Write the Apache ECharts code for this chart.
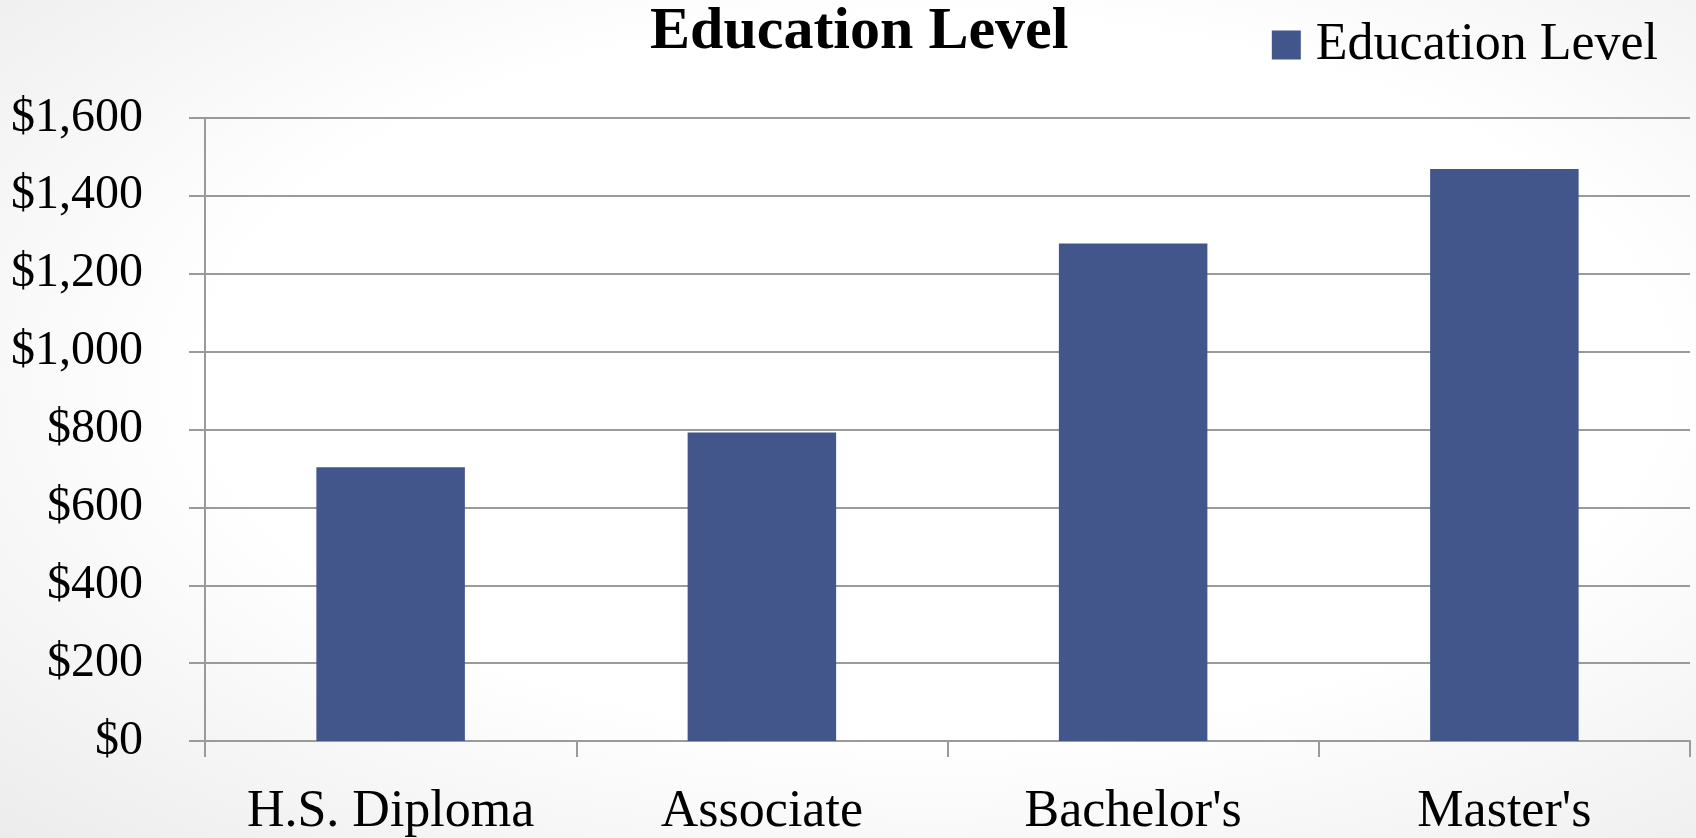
<!DOCTYPE html>
<html>
<head>
<meta charset="utf-8">
<script src="https://cdn.jsdelivr.net/npm/echarts@6/dist/echarts.min.js"></script>
<style>
html,body{margin:0;padding:0;}
#c{width:1696px;height:838px;background:radial-gradient(ellipse at 55% 45%, #ffffff 0%, #ffffff 55%, #ececec 100%);}
</style>
</head>
<body>
<div id="c"></div>
<script>
var categories = ["H.S. Diploma", "Associate", "Bachelor's", "Master's"];
var values = [703, 792, 1278, 1469];
var seriesName = "Education Level";
var titleText = "Education Level";
var yMin = 0, yMax = 1600, yStep = 200;

var font = "'Liberation Serif', 'DejaVu Serif', serif";
var chart = echarts.init(document.getElementById('c'), null, {renderer: 'canvas'});
function money(v) {
  return '$' + String(v).replace(/\B(?=(\d{3})+(?!\d))/g, ',');
}
chart.setOption({
  backgroundColor: 'transparent',
  animation: false,
  title: {
    text: titleText,
    left: 648,
    top: 0,
    padding: 2,
    textStyle: {fontFamily: font, fontSize: 60, fontWeight: 'bold', color: '#000'}
  },
  legend: {
    data: [seriesName],
    right: 33,
    top: 14,
    icon: 'rect',
    itemWidth: 29,
    itemHeight: 29,
    itemGap: 15,
    textStyle: {fontFamily: font, fontSize: 52, color: '#000', padding: [0, 0, 0, 10]}
  },
  grid: {left: 205, right: 6, top: 118, bottom: 97, containLabel: false},
  xAxis: {
    type: 'category',
    data: categories,
    axisLine: {show: true, lineStyle: {color: '#9a9a9a', width: 2}},
    axisTick: {show: true, interval: 0, length: 16, lineStyle: {color: '#9a9a9a', width: 2}},
    axisLabel: {interval: 0, hideOverlap: false, fontFamily: font, fontSize: 52, color: '#000', margin: 45}
  },
  yAxis: {
    type: 'value',
    min: yMin,
    max: yMax,
    interval: yStep,
    axisLine: {show: true, lineStyle: {color: '#9a9a9a', width: 2}},
    axisTick: {show: true, length: 16, lineStyle: {color: '#9a9a9a', width: 2}},
    splitLine: {show: true, lineStyle: {color: '#9a9a9a', width: 2}},
    axisLabel: {fontFamily: font, fontSize: 48, color: '#000', margin: 62, formatter: money}
  },
  series: [{
    name: seriesName,
    type: 'bar',
    data: values,
    barCategoryGap: '60%',
    itemStyle: {color: '#43568c'}
  }]
});
</script>
</body>
</html>
